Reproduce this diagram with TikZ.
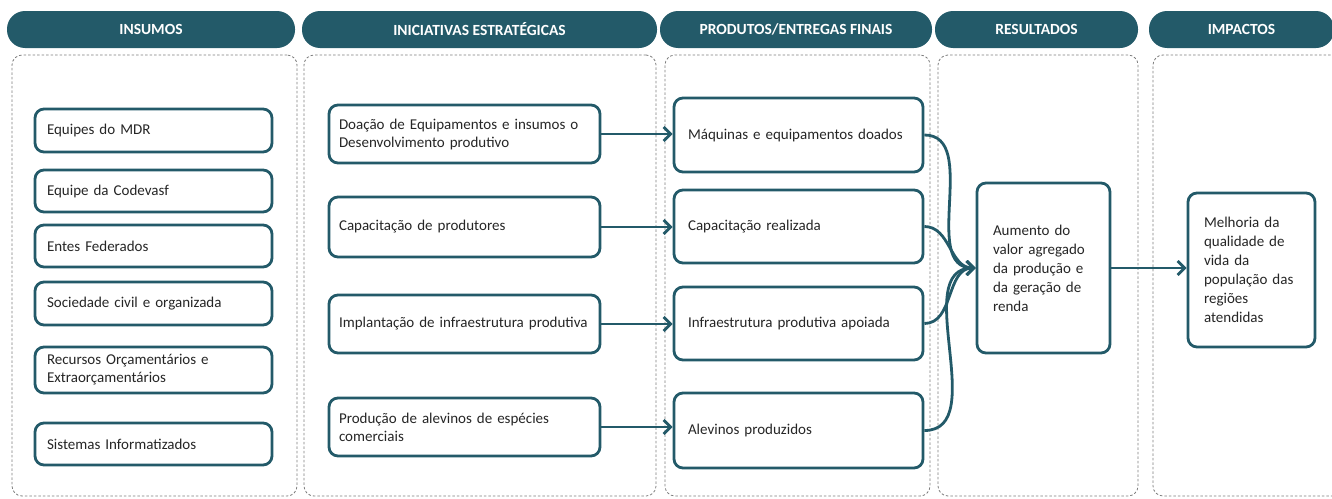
\documentclass[tikz,border=0pt]{standalone}
\usepackage{fontspec}
\setmainfont{Carlito}
\usetikzlibrary{arrows.meta}
\hyphenpenalty=10000
\exhyphenpenalty=10000

\definecolor{tealDark}{RGB}{35,90,105}
\definecolor{panelGray}{RGB}{125,125,125}

\tikzset{
	header/.style={rectangle, rounded corners=18pt, fill=tealDark, text=white, font=\fontsize{15.5}{17}\selectfont\bfseries, minimum height=37pt},
	panel/.style={rectangle, rounded corners=10pt, draw=panelGray, line width=0.8pt, dash pattern=on 2.5pt off 2pt, minimum height=441pt},
	itemBox/.style={rectangle, rounded corners=9pt, draw=tealDark, line width=2.8pt, fill=white, text=black!85, font=\fontsize{15}{18}\selectfont, align=left, inner xsep=12pt},
	inBox/.style={itemBox, text width=213pt},
	iniBox/.style={itemBox, inner xsep=10pt, text width=251pt},
	proBox/.style={itemBox, inner xsep=14pt, text width=221pt},
	outBox/.style={itemBox, inner xsep=16pt, font=\fontsize{15}{19}\selectfont},
	flow/.style={draw=tealDark, line width=2.8pt, -{Straight Barb[length=7pt,width=14pt]}},
}

\begin{document}
\begin{tikzpicture}[x=1pt, y=-1pt]
		\clip (0,0) rectangle (1332,498);

		% dashed columns
		\node[panel, minimum width=285pt](pIns) at (154.5,275.5){};
		\node[panel, minimum width=352pt](pIni) at (480,275.5){};
		\node[panel, minimum width=265pt](pPro) at (797.5,275.5){};
		\node[panel, minimum width=200pt](pRes) at (1038,275.5){};
		\node[panel, minimum width=192pt](pImp) at (1249,275.5){};

		% column headers
		\node[header, minimum width=288pt](hIns) at (151,29.5){INSUMOS};
		\node[header, minimum width=355pt](hIni) at (479.5,29.5){INICIATIVAS ESTRATÉGICAS};
		\node[header, minimum width=272pt](hPro) at (796,29.5){PRODUTOS/ENTREGAS FINAIS};
		\node[header, minimum width=203pt](hRes) at (1036.5,29.5){RESULTADOS};
		\node[header, minimum width=185pt](hImp) at (1241.5,29.5){IMPACTOS};

		% insumos
		\node[inBox, minimum height=43pt](mdr) at (153.5,130.5){Equipes do MDR};
		\node[inBox, minimum height=42pt](codevasf) at (153.5,191){Equipe da Codevasf};
		\node[inBox, minimum height=42pt](entes) at (153.5,246){Entes Federados};
		\node[inBox, minimum height=43pt](sociedade) at (153.5,303.5){Sociedade civil e organizada};
		\node[inBox, minimum height=46pt](recursos) at (153.5,370){Recursos Orçamentários e\\Extraorçamentários};
		\node[inBox, minimum height=42pt](sistemas) at (153.5,444){Sistemas Informatizados};

		% iniciativas
		\node[iniBox, minimum height=58pt](doacao) at (464.5,134){Doação de Equipamentos e insumos o\\Desenvolvimento produtivo};
		\node[iniBox, minimum height=60pt](capProd) at (464.5,227){Capacitação de produtores};
		\node[iniBox, minimum height=58pt](implant) at (464.5,324){Implantação de infraestrutura produtiva};
		\node[iniBox, minimum height=58pt](prodAlev) at (464.5,427){Produção de alevinos de espécies\\comerciais};

		% produtos
		\node[proBox, minimum height=74pt](maquinas) at (798.5,135){Máquinas e equipamentos doados};
		\node[proBox, minimum height=73pt](capReal) at (798.5,226.5){Capacitação realizada};
		\node[proBox, minimum height=73pt](infra) at (798.5,323.5){Infraestrutura produtiva apoiada};
		\node[proBox, minimum height=75pt](alevinos) at (798.5,430.5){Alevinos produzidos};

		% resultado and impacto
		\node[outBox, minimum width=133pt, minimum height=170pt, text width=101pt](resultado) at (1043.5,268){Aumento do\\valor agregado\\da produção e\\da geração de\\renda};
		\node[outBox, minimum width=127pt, minimum height=154pt, text width=95pt](impacto) at (1251.5,270){Melhoria da\\qualidade de\\vida da\\população das\\regiões\\atendidas};

		% draw delivery edges
		\draw[flow] (doacao.east) -- (doacao.east -| maquinas.west);
		\draw[flow] (capProd.east) -- (capProd.east -| capReal.west);
		\draw[flow] (implant.east) -- (implant.east -| infra.west);
		\draw[flow] (prodAlev.east) -- (prodAlev.east -| alevinos.west);

		% draw result edges
		\draw[flow] (maquinas.east) to[out=0, in=180] (resultado.west);
		\draw[flow] (capReal.east) to[out=0, in=180] (resultado.west);
		\draw[flow] (infra.east) to[out=0, in=180] (resultado.west);
		\draw[flow] (alevinos.east) to[out=0, in=180] (resultado.west);

		% draw impact edge
		\draw[flow] (resultado.east) -- (resultado.east -| impacto.west);

	\end{tikzpicture}
\end{document}
